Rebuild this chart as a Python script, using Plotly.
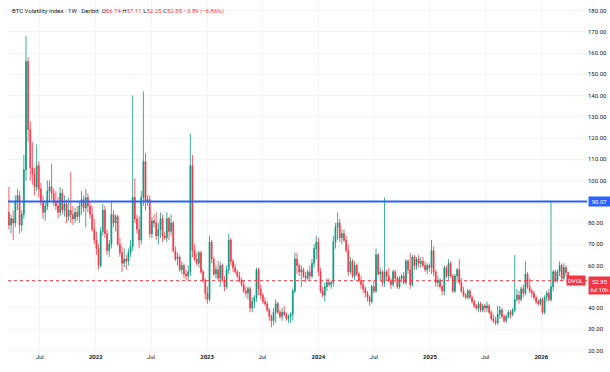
import plotly.graph_objects as go
import pandas as pd

# Weekly OHLC of the BTC Volatility Index (DVOL), first week 2021-03-22
opens = [85, 79, 82, 80, 90, 93, 79, 84, 105, 156,
         124, 106, 103, 97, 107, 96, 90, 85, 88, 95,
         97, 94, 90, 88, 85, 94, 86, 89, 83, 86,
         84, 82, 85, 83, 88, 91, 87, 92, 88, 84,
         77, 72, 68, 60, 76, 86, 75, 67, 70, 84,
         80, 83, 70, 66, 61, 63, 62, 66, 69, 92,
         82, 77, 72, 92, 109, 90, 91, 75, 81, 80,
         74, 77, 82, 74, 73, 82, 76, 80, 67, 63,
         64, 58, 60, 56, 55, 57, 107, 67, 63, 61,
         66, 57, 53, 47, 44, 71, 63, 56, 58, 54,
         60, 53, 50, 58, 72, 62, 59, 57, 55, 53,
         51, 48, 47, 49, 40, 43, 45, 58, 49, 46,
         43, 42, 39, 36, 34, 38, 42, 38, 36, 38,
         37, 35, 36, 37, 48, 63, 60, 57, 58, 55,
         54, 57, 55, 61, 68, 71, 57, 48, 46, 50,
         52, 51, 52, 71, 78, 80, 73, 75, 72, 67,
         57, 62, 55, 60, 56, 53, 51, 49, 47, 45,
         43, 50, 48, 65, 56, 57, 52, 57, 55, 53,
         51, 57, 54, 50, 54, 55, 52, 62, 58, 51,
         64, 60, 63, 61, 62, 60, 58, 60, 59, 67,
         57, 52, 53, 50, 48, 59, 55, 61, 55, 48,
         55, 58, 52, 48, 46, 45, 48, 45, 43, 41,
         40, 42, 39, 41, 40, 41, 38, 35, 34, 33,
         37, 39, 36, 34, 36, 38, 37, 39, 44, 46,
         44, 49, 47, 56, 50, 48, 47, 45, 43, 42,
         44, 38, 45, 47, 44, 50, 57, 53, 57, 60,
         54, 59, 56.74]
highs = [97, 84, 86, 93, 96, 95, 86, 112, 168, 158,
         128, 118, 106, 117, 109, 99, 93, 90, 100, 100,
         108, 96, 95, 92, 97, 96, 93, 91, 92, 104,
         88, 87, 88, 90, 95, 93, 96, 94, 90, 88,
         82, 76, 70, 78, 89, 88, 77, 72, 90, 86,
         84, 84, 73, 69, 68, 65, 68, 72, 140, 101,
         84, 83, 95, 142, 113, 93, 93, 83, 84, 85,
         80, 85, 84, 76, 85, 83, 84, 81, 69, 66,
         65, 62, 61, 58, 60, 122, 112, 70, 66, 67,
         67, 58, 54, 50, 74, 72, 64, 60, 62, 62,
         61, 55, 60, 75, 73, 63, 61, 58, 57, 54,
         53, 50, 50, 50, 45, 46, 59, 59, 51, 47,
         45, 43, 40, 37, 40, 44, 43, 39, 40, 41,
         38, 37, 38, 49, 66, 66, 61, 60, 59, 57,
         58, 60, 63, 70, 74, 73, 59, 50, 52, 54,
         54, 53, 74, 80, 85, 82, 77, 77, 74, 70,
         64, 63, 62, 61, 57, 55, 53, 50, 48, 46,
         51, 53, 68, 66, 59, 58, 92, 58, 59, 54,
         58, 58, 55, 55, 56, 57, 63, 63, 66, 65,
         65, 64, 65, 64, 64, 62, 61, 61, 72, 69,
         58, 55, 54, 51, 60, 60, 63, 62, 56, 56,
         59, 63, 54, 50, 47, 49, 49, 46, 44, 42,
         43, 43, 42, 42, 43, 42, 39, 37, 36, 41,
         41, 40, 37, 37, 39, 39, 40, 65, 49, 48,
         50, 51, 62, 57, 54, 49, 48, 46, 44, 45,
         45, 46, 48, 49, 90, 58, 58, 58, 62, 61,
         61, 60, 57.11]
lows = [77, 75, 72, 78, 86, 75, 76, 82, 100, 118,
        100, 98, 93, 95, 92, 88, 82, 81, 86, 90,
        91, 88, 86, 82, 83, 84, 83, 80, 81, 80,
        79, 80, 81, 80, 84, 85, 78, 85, 82, 76,
        70, 65, 58, 59, 74, 73, 65, 64, 68, 78,
        76, 69, 64, 57, 59, 58, 60, 64, 67, 80,
        75, 68, 70, 88, 86, 88, 73, 73, 78, 72,
        70, 73, 71, 72, 71, 72, 74, 66, 62, 60,
        57, 56, 54, 53, 53, 55, 64, 62, 60, 59,
        56, 52, 44, 42, 43, 61, 55, 54, 53, 50,
        52, 48, 49, 56, 60, 57, 56, 54, 52, 50,
        47, 45, 44, 38, 38, 40, 43, 46, 44, 42,
        41, 38, 34, 31, 32, 33, 37, 35, 34, 36,
        34, 33, 33, 34, 47, 56, 55, 50, 54, 52,
        53, 53, 54, 59, 63, 55, 47, 45, 43, 48,
        50, 49, 50, 68, 72, 71, 70, 71, 66, 55,
        56, 54, 53, 55, 52, 49, 47, 45, 43, 41,
        42, 47, 47, 55, 53, 50, 50, 53, 52, 49,
        50, 52, 49, 49, 52, 51, 51, 56, 49, 50,
        58, 58, 59, 59, 59, 57, 56, 57, 56, 55,
        50, 50, 49, 46, 46, 54, 53, 54, 47, 47,
        52, 51, 47, 45, 44, 44, 44, 42, 40, 39,
        38, 38, 38, 38, 38, 37, 34, 33, 32, 32,
        35, 35, 33, 33, 35, 35, 36, 38, 43, 42,
        43, 45, 46, 49, 47, 45, 44, 42, 41, 41,
        37, 37, 43, 43, 43, 48, 52, 52, 55, 53,
        53, 55, 52.25]
closes = [79, 82, 80, 90, 93, 79, 84, 105, 156, 124,
          106, 103, 97, 107, 96, 90, 85, 88, 95, 97,
          94, 90, 88, 85, 94, 86, 89, 83, 86, 84,
          82, 85, 83, 88, 91, 87, 92, 88, 84, 77,
          72, 68, 60, 76, 86, 75, 67, 70, 84, 80,
          83, 70, 66, 61, 63, 62, 66, 69, 92, 82,
          77, 72, 92, 109, 90, 91, 75, 81, 80, 74,
          77, 82, 74, 73, 82, 76, 80, 67, 63, 64,
          58, 60, 56, 55, 57, 107, 67, 63, 61, 66,
          57, 53, 47, 44, 71, 63, 56, 58, 54, 60,
          53, 50, 58, 72, 62, 59, 57, 55, 53, 51,
          48, 47, 49, 40, 43, 45, 58, 49, 46, 43,
          42, 39, 36, 34, 38, 42, 38, 36, 38, 37,
          35, 36, 37, 48, 63, 60, 57, 58, 55, 54,
          57, 55, 61, 68, 71, 57, 48, 46, 50, 52,
          51, 52, 71, 78, 80, 73, 75, 72, 67, 57,
          62, 55, 60, 56, 53, 51, 49, 47, 45, 43,
          50, 48, 65, 56, 57, 52, 57, 55, 53, 51,
          57, 54, 50, 54, 55, 52, 62, 58, 51, 64,
          60, 63, 61, 62, 60, 58, 60, 59, 67, 57,
          52, 53, 50, 48, 59, 55, 61, 55, 48, 55,
          58, 52, 48, 46, 45, 48, 45, 43, 41, 40,
          42, 39, 41, 40, 41, 38, 35, 34, 33, 37,
          39, 36, 34, 36, 38, 37, 39, 44, 46, 44,
          49, 47, 56, 50, 48, 47, 45, 43, 42, 44,
          38, 45, 47, 44, 50, 57, 53, 57, 60, 54,
          59, 56.74, 52.85]

first_week = "2021-03-22"
x_tick_dates = ["2021-07-01", "2022-01-01", "2022-07-01", "2023-01-01", "2023-07-01",
                "2024-01-01", "2024-07-01", "2025-01-01", "2025-07-01", "2026-01-01"]
x_tick_text = ["Jul", "<b>2022</b>", "Jul", "<b>2023</b>", "Jul",
               "<b>2024</b>", "Jul", "<b>2025</b>", "Jul", "<b>2026</b>"]
y_tick_vals = [20, 30, 40, 50, 60, 70, 80, 90, 100, 110, 120, 130, 140, 150, 160, 170, 180]
# 50.00 and 90.00 are hidden behind the price / line labels in the original
y_tick_text = ["" if v in (50, 90) else "%.2f" % v for v in y_tick_vals]
hline_value = 90.07
last_price = 52.85

dates = pd.date_range(first_week, periods=len(closes), freq="7D")

UP = "#089981"
DOWN = "#F23645"
TXT = "#131722"
GRID = "#f3f4f7"
FONT = "Roboto, Liberation Sans, Arial, sans-serif"

fig = go.Figure(go.Candlestick(
    x=dates, open=opens, high=highs, low=lows, close=closes,
    increasing=dict(line=dict(color=UP, width=0.8), fillcolor=UP),
    decreasing=dict(line=dict(color=DOWN, width=0.8), fillcolor=DOWN),
    whiskerwidth=0, hoverinfo="skip", showlegend=False,
))

fig.update_layout(
    width=610, height=372,
    margin=dict(l=8, r=23, t=0, b=20),
    paper_bgcolor="white", plot_bgcolor="white",
    font=dict(family=FONT, size=6, color=TXT),
    showlegend=False,
    boxgap=0.4,
    xaxis=dict(
        range=["2021-03-19", "2026-05-31"], rangeslider=dict(visible=False),
        tickvals=x_tick_dates, ticktext=x_tick_text, tickangle=0,
        showgrid=True, gridcolor=GRID, gridwidth=1, zeroline=False,
        showline=False, ticks="", tickfont=dict(size=6, color=TXT),
    ),
    yaxis=dict(
        side="right", range=[19.29, 184.94],
        tickvals=y_tick_vals, ticktext=y_tick_text,
        showgrid=True, gridcolor=GRID, gridwidth=1, zeroline=False,
        showline=False, ticks="", tickfont=dict(size=6, color=TXT),
    ),
    shapes=[
        dict(type="line", xref="paper", x0=0, x1=1, yref="y", y0=hline_value, y1=hline_value,
             line=dict(color="#2962FF", width=2)),
        dict(type="line", xref="paper", x0=0, x1=1, yref="y", y0=last_price, y1=last_price,
             line=dict(color=DOWN, width=1, dash="dot")),
    ],
    annotations=[
        dict(xref="paper", yref="paper", x=0.004, y=1, xanchor="left", yanchor="top",
             yshift=-5, showarrow=False, align="left",
             font=dict(size=6, color=TXT),
             text=("BTC Volatility Index · 1W · Deribit  "
                   "O<span style='color:#F23645'>56.74</span> "
                   "H<span style='color:#F23645'>57.11</span> "
                   "L<span style='color:#F23645'>52.25</span> "
                   "C<span style='color:#F23645'>52.85</span> "
                   "<span style='color:#F23645'>−3.89 (−6.86%)</span>")),
        dict(xref="paper", yref="y", x=1, y=hline_value, xanchor="left", yanchor="middle",
             xshift=1, showarrow=False, text="90.07", bgcolor="#2962FF",
             font=dict(size=6, color="white"), width=19, borderpad=1),
        dict(xref="paper", yref="y", x=1, y=last_price, xanchor="right", yanchor="middle",
             xshift=-1, showarrow=False, text="DVOL", bgcolor=DOWN,
             font=dict(size=6, color="white"), borderpad=1),
        dict(xref="paper", yref="y", x=1, y=last_price, xanchor="left", yanchor="top",
             xshift=1, yshift=5, showarrow=False, text="52.85<br>6d 10h", bgcolor=DOWN,
             font=dict(size=6, color="white"), width=19, borderpad=1),
    ],
)

fig.write_html("out.html", config={"displayModeBar": False},
               post_script="document.body.style.margin='0';document.body.style.overflow='hidden';")
